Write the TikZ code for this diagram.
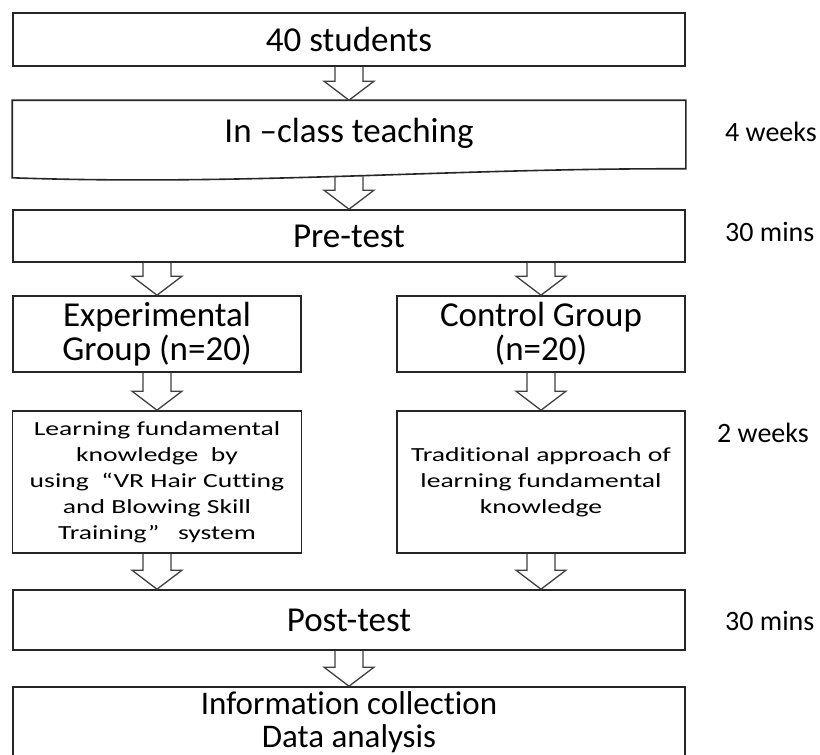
\documentclass[tikz,border=0pt]{standalone}
\usepackage{fontspec}
\setmainfont[Ligatures=NoCommon]{Carlito}
\newfontfamily\stretchfont[FakeStretch=1.38, Ligatures=NoCommon]{Carlito}
\usetikzlibrary{calc}

% hollow block arrow, x taken from the start point
\newcommand\hollowarrow[2]{%
  \draw[hollow] let \p1=(#1), \p2=(#2) in
    (\x1-14pt,\y1) -- (\x1-14pt,\y2+19pt) -- (\x1-25pt,\y2+19pt) -- (\x1,\y2)
    -- (\x1+25pt,\y2+19pt) -- (\x1+14pt,\y2+19pt) -- (\x1+14pt,\y1);}

\begin{document}
\begin{tikzpicture}[x=1pt, y=-1pt,
    box/.style={draw=black!85, line width=1.6pt, rectangle, inner sep=0pt, align=center,
        font=\fontsize{35}{34}\selectfont},
    smallbox/.style={box, font=\stretchfont\fontsize{20}{26}\selectfont},
    timelabel/.style={anchor=west, inner sep=0pt, font=\fontsize{28}{28}\selectfont},
    hollow/.style={draw=black!75, line width=1.3pt, line join=miter}]
    \clip (0,0) rectangle (820,755);
    \fill[white] (0,0) rectangle (820,755);

    \node[box, minimum width=672, minimum height=53] at (349, 39.5)(students){40 students};
    \node[box, draw=none, minimum width=672, minimum height=64] at (349, 133)(teaching){In –class teaching};
    \draw[draw=black!85, line width=1.6pt] (teaching.north west) -- (teaching.north east)
        -- ([yshift=-3pt]teaching.south east) .. controls (450,168) and (250,186) .. ([yshift=-12pt]teaching.south west)
        -- cycle;
    \coordinate (teachingbottom) at (349, 176);
    \node[box, minimum width=672, minimum height=52] at (349, 236)(pretest){Pre-test};

    \node[box, minimum width=288, minimum height=76] at (157, 334)(expgroup){Experimental\\Group (n=20)};
    \node[box, minimum width=288, minimum height=76] at (541, 334)(ctrlgroup){Control Group\\(n=20)};
    \node[smallbox, minimum width=289, minimum height=142] at (157, 482)(learning)
        {Learning fundamental\\knowledge~ by\\using~ “VR Hair Cutting\\and Blowing Skill\\Training”~~ system};
    \node[smallbox, minimum width=288, minimum height=142] at (541, 482)(traditional)
        {Traditional approach of\\learning fundamental\\knowledge};

    \node[box, minimum width=672, minimum height=70, font=\fontsize{33}{33}\selectfont] at (349, 722)(info)
        {Information collection\\Data analysis};
    \node[box, minimum width=672, minimum height=60] at (349, 620)(posttest){Post-test};

    \node[timelabel] at (725, 132)(t1){4 weeks};
    \node[timelabel] at (725, 232)(t2){30 mins};
    \node[timelabel] at (717, 433)(t3){2 weeks};
    \node[timelabel] at (725, 621)(t4){30 mins};

    \hollowarrow{students.south}{teaching.north}
    \hollowarrow{teachingbottom}{pretest.north}
    \hollowarrow{pretest.south -| expgroup.north}{expgroup.north}
    \hollowarrow{pretest.south -| ctrlgroup.north}{ctrlgroup.north}
    \hollowarrow{expgroup.south}{learning.north}
    \hollowarrow{ctrlgroup.south}{traditional.north}
    \hollowarrow{learning.south}{posttest.north}
    \hollowarrow{traditional.south}{posttest.north}
    \hollowarrow{posttest.south}{info.north}
\end{tikzpicture}
\end{document}
